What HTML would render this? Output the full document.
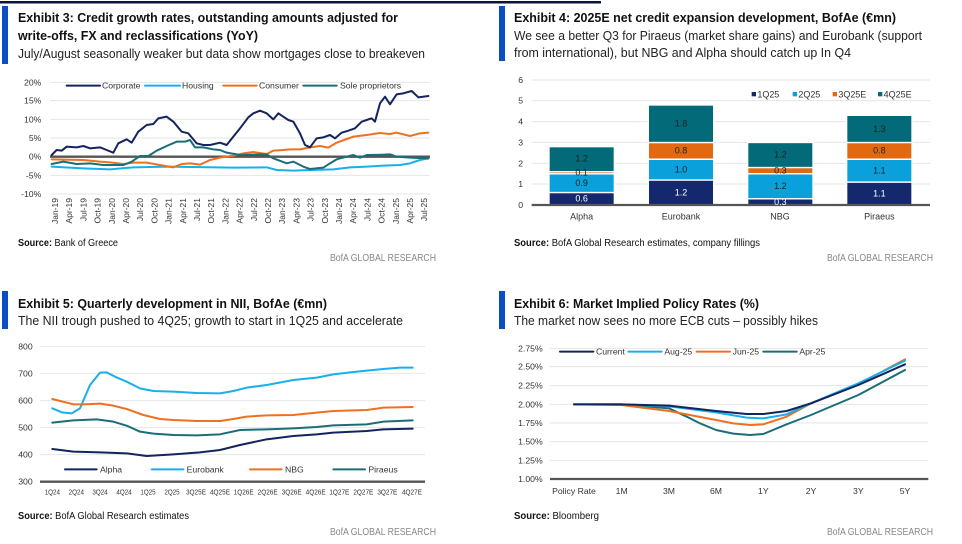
<!DOCTYPE html>
<html><head><meta charset="utf-8"><style>
html,body{margin:0;padding:0;background:#fff;}
svg{display:block;font-family:"Liberation Sans",sans-serif;}
</style></head><body>
<svg width="962" height="544" viewBox="0 0 962 544" xmlns="http://www.w3.org/2000/svg">
<rect width="962" height="544" fill="#fff"/>
<rect x="0" y="1" width="601" height="2.5" fill="#0a1440"/>
<rect x="2" y="6" width="6" height="58" fill="#0a4fc4"/>
<rect x="499" y="6" width="6" height="55" fill="#0a4fc4"/>
<rect x="2" y="291" width="6" height="38" fill="#0a4fc4"/>
<rect x="499" y="291" width="6" height="38" fill="#0a4fc4"/>

<g fill="#111" font-weight="bold" font-size="13">
<text x="18" y="22" textLength="380" lengthAdjust="spacingAndGlyphs">Exhibit 3: Credit growth rates, outstanding amounts adjusted for</text>
<text x="18" y="40" textLength="240" lengthAdjust="spacingAndGlyphs">write-offs, FX and reclassifications (YoY)</text>
<text x="514" y="22" textLength="382" lengthAdjust="spacingAndGlyphs">Exhibit 4: 2025E net credit expansion development, BofAe (€mn)</text>
<text x="18" y="308" textLength="309" lengthAdjust="spacingAndGlyphs">Exhibit 5: Quarterly development in NII, BofAe (€mn)</text>
<text x="514" y="308" textLength="245" lengthAdjust="spacingAndGlyphs">Exhibit 6: Market Implied Policy Rates (%)</text>
</g>
<g fill="#222" font-size="13">
<text x="18" y="58" textLength="407" lengthAdjust="spacingAndGlyphs">July/August seasonally weaker but data show mortgages close to breakeven</text>
<text x="514" y="40" textLength="408" lengthAdjust="spacingAndGlyphs">We see a better Q3 for Piraeus (market share gains) and Eurobank (support</text>
<text x="514" y="57" textLength="337" lengthAdjust="spacingAndGlyphs">from international), but NBG and Alpha should catch up In Q4</text>
<text x="18" y="325" textLength="385" lengthAdjust="spacingAndGlyphs">The NII trough pushed to 4Q25; growth to start in 1Q25 and accelerate</text>
<text x="514" y="325" textLength="304" lengthAdjust="spacingAndGlyphs">The market now sees no more ECB cuts – possibly hikes</text>
</g>
<g font-size="10" fill="#111">
<text x="18" y="246" textLength="100" lengthAdjust="spacingAndGlyphs"><tspan font-weight="bold">Source:</tspan> Bank of Greece</text>
<text x="514" y="246" textLength="246" lengthAdjust="spacingAndGlyphs"><tspan font-weight="bold">Source:</tspan> BofA Global Research estimates, company fillings</text>
<text x="18" y="519" textLength="171" lengthAdjust="spacingAndGlyphs"><tspan font-weight="bold">Source:</tspan> BofA Global Research estimates</text>
<text x="514" y="519" textLength="85" lengthAdjust="spacingAndGlyphs"><tspan font-weight="bold">Source:</tspan> Bloomberg</text>
</g>
<g font-size="10" fill="#888">
<text x="330" y="261" textLength="106" lengthAdjust="spacingAndGlyphs">BofA GLOBAL RESEARCH</text>
<text x="827" y="261" textLength="106" lengthAdjust="spacingAndGlyphs">BofA GLOBAL RESEARCH</text>
<text x="330" y="535" textLength="106" lengthAdjust="spacingAndGlyphs">BofA GLOBAL RESEARCH</text>
<text x="827" y="535" textLength="106" lengthAdjust="spacingAndGlyphs">BofA GLOBAL RESEARCH</text>
</g>

<!-- Chart 1 -->
<g transform="translate(0,60) scale(0.33333)">
<g stroke="#e6e6e6" stroke-width="3">
<line x1="150" y1="67" x2="1290" y2="67"/><line x1="150" y1="122" x2="1290" y2="122"/><line x1="150" y1="178" x2="1290" y2="178"/><line x1="150" y1="234" x2="1290" y2="234"/><line x1="150" y1="346" x2="1290" y2="346"/><line x1="150" y1="402" x2="1290" y2="402"/>
</g>
<g font-size="26" fill="#333" text-anchor="end">
<text x="124" y="76">20%</text><text x="124" y="131">15%</text><text x="124" y="187">10%</text><text x="124" y="243">5%</text><text x="124" y="299">0%</text><text x="124" y="355">-5%</text><text x="124" y="411">-10%</text>
</g>
<line x1="150" y1="290" x2="1290" y2="290" stroke="#555" stroke-width="7"/>
<g fill="none" stroke-width="6" stroke-linejoin="round" stroke-linecap="round">
<polyline stroke="#17b0ea" points="155,320 250,325 330,328 400,322 500,320 700,323 800,322 830,330 880,332 930,330 1000,328 1050,322 1100,320 1150,317 1200,315 1230,310 1260,300 1285,295"/>
<polyline stroke="#ee7020" points="155,298 250,300 300,305 330,307 370,312 400,308 440,308 480,315 520,322 545,312 570,310 600,314 630,300 660,293 700,287 730,280 760,276 800,282 820,272 850,270 870,268 900,268 930,262 960,258 985,263 1010,248 1040,237 1060,230 1100,225 1140,219 1170,222 1190,218 1230,228 1260,220 1285,218"/>
<polyline stroke="#1a6e78" points="155,312 190,305 230,312 270,310 310,315 370,315 395,305 420,288 445,288 470,272 500,258 530,245 555,245 570,240 585,262 610,262 640,268 660,270 680,278 720,285 760,284 800,283 820,295 860,310 880,305 910,320 930,327 970,323 990,310 1010,298 1040,290 1060,285 1080,293 1100,285 1150,284 1170,283 1190,290 1230,293 1285,295"/>
<polyline stroke="#13245e" points="155,285 170,270 185,272 200,260 230,262 250,258 270,265 300,262 320,270 340,278 355,250 380,238 395,248 415,215 440,195 460,192 475,175 500,170 520,185 545,215 565,220 590,250 610,255 630,255 660,248 680,255 700,230 720,205 745,172 760,160 780,152 800,160 820,178 835,160 850,170 865,180 880,185 900,220 915,255 930,262 950,235 970,232 990,225 1005,235 1025,218 1045,212 1065,205 1085,185 1100,180 1115,175 1125,185 1140,130 1155,110 1170,133 1190,103 1210,100 1235,93 1255,112 1285,108"/>
<line x1="200" y1="77" x2="300" y2="77" stroke="#13245e"/><line x1="435" y1="77" x2="540" y2="77" stroke="#17b0ea"/><line x1="670" y1="77" x2="770" y2="77" stroke="#ee7020"/><line x1="910" y1="77" x2="1010" y2="77" stroke="#1a6e78"/>
</g>
<g font-size="26" fill="#333">
<text x="306" y="86">Corporate</text><text x="546" y="86">Housing</text><text x="777" y="86">Consumer</text><text x="1020" y="86">Sole proprietors</text>
</g>
</g>
<g font-size="8.5" fill="#333" text-anchor="end">
<text transform="translate(58,198) rotate(-90)">Jan-19</text>
<text transform="translate(72.2,198) rotate(-90)">Apr-19</text>
<text transform="translate(86.4,198) rotate(-90)">Jul-19</text>
<text transform="translate(100.6,198) rotate(-90)">Oct-19</text>
<text transform="translate(114.8,198) rotate(-90)">Jan-20</text>
<text transform="translate(129,198) rotate(-90)">Apr-20</text>
<text transform="translate(143.2,198) rotate(-90)">Jul-20</text>
<text transform="translate(157.4,198) rotate(-90)">Oct-20</text>
<text transform="translate(171.6,198) rotate(-90)">Jan-21</text>
<text transform="translate(185.8,198) rotate(-90)">Apr-21</text>
<text transform="translate(200,198) rotate(-90)">Jul-21</text>
<text transform="translate(214.2,198) rotate(-90)">Oct-21</text>
<text transform="translate(228.4,198) rotate(-90)">Jan-22</text>
<text transform="translate(242.6,198) rotate(-90)">Apr-22</text>
<text transform="translate(256.8,198) rotate(-90)">Jul-22</text>
<text transform="translate(271,198) rotate(-90)">Oct-22</text>
<text transform="translate(285.2,198) rotate(-90)">Jan-23</text>
<text transform="translate(299.4,198) rotate(-90)">Apr-23</text>
<text transform="translate(313.6,198) rotate(-90)">Jul-23</text>
<text transform="translate(327.8,198) rotate(-90)">Oct-23</text>
<text transform="translate(342,198) rotate(-90)">Jan-24</text>
<text transform="translate(356.2,198) rotate(-90)">Apr-24</text>
<text transform="translate(370.4,198) rotate(-90)">Jul-24</text>
<text transform="translate(384.6,198) rotate(-90)">Oct-24</text>
<text transform="translate(398.8,198) rotate(-90)">Jan-25</text>
<text transform="translate(413,198) rotate(-90)">Apr-25</text>
<text transform="translate(427.2,198) rotate(-90)">Jul-25</text>
</g>

<!-- Chart 2 -->
<g transform="translate(500,60) scale(0.33333)">
<g stroke="#e6e6e6" stroke-width="3">
<line x1="95" y1="60" x2="1290" y2="60"/><line x1="95" y1="122" x2="1290" y2="122"/><line x1="95" y1="185" x2="1290" y2="185"/><line x1="95" y1="247" x2="1290" y2="247"/><line x1="95" y1="310" x2="1290" y2="310"/><line x1="95" y1="372" x2="1290" y2="372"/>
</g>
<g font-size="26" fill="#333" text-anchor="middle">
<text x="62" y="69">6</text><text x="62" y="131">5</text><text x="62" y="194">4</text><text x="62" y="256">3</text><text x="62" y="319">2</text><text x="62" y="381">1</text><text x="62" y="444">0</text>
</g>
<g stroke="#fff" stroke-width="4">
<rect x="147" y="397.5" width="196" height="37.5" fill="#14286e"/>
<rect x="147" y="341.2" width="196" height="56.3" fill="#0aa0dc"/>
<rect x="147" y="335" width="196" height="6.2" fill="#e2690f"/>
<rect x="147" y="260" width="196" height="75" fill="#026a78"/>
<rect x="445" y="360" width="196" height="75" fill="#14286e"/>
<rect x="445" y="297.5" width="196" height="62.5" fill="#0aa0dc"/>
<rect x="445" y="247.5" width="196" height="50" fill="#e2690f"/>
<rect x="445" y="135" width="196" height="112.5" fill="#026a78"/>
<rect x="743" y="416.2" width="196" height="18.8" fill="#14286e"/>
<rect x="743" y="341.2" width="196" height="75" fill="#0aa0dc"/>
<rect x="743" y="322.5" width="196" height="18.7" fill="#e2690f"/>
<rect x="743" y="247.5" width="196" height="75" fill="#026a78"/>
<rect x="1040" y="366.2" width="196" height="68.8" fill="#14286e"/>
<rect x="1040" y="297.5" width="196" height="68.7" fill="#0aa0dc"/>
<rect x="1040" y="247.5" width="196" height="50" fill="#e2690f"/>
<rect x="1040" y="166" width="196" height="81.5" fill="#026a78"/>
</g>
<line x1="95" y1="435" x2="1290" y2="435" stroke="#555" stroke-width="7"/>
<g font-size="27" text-anchor="middle" fill="#222">
<text x="245" y="425" fill="#fff">0.6</text><text x="245" y="378">0.9</text><text x="245" y="346">0.1</text><text x="245" y="305">1.2</text>
<text x="543" y="406" fill="#fff">1.2</text><text x="543" y="338">1.0</text><text x="543" y="281">0.8</text><text x="543" y="200">1.8</text>
<text x="841" y="435" fill="#fff">0.3</text><text x="841" y="387">1.2</text><text x="841" y="341">0.3</text><text x="841" y="293">1.2</text>
<text x="1138" y="409" fill="#fff">1.1</text><text x="1138" y="341">1.1</text><text x="1138" y="281">0.8</text><text x="1138" y="216">1.3</text>
</g>
<g font-size="27" fill="#333">
<rect x="755" y="96" width="13" height="13" fill="#14286e"/><text x="772" y="112">1Q25</text>
<rect x="878" y="96" width="13" height="13" fill="#0aa0dc"/><text x="895" y="112">2Q25</text>
<rect x="998" y="96" width="13" height="13" fill="#e2690f"/><text x="1015" y="112">3Q25E</text>
<rect x="1134" y="96" width="13" height="13" fill="#026a78"/><text x="1151" y="112">4Q25E</text>
</g>
<g font-size="27" fill="#333" text-anchor="middle">
<text x="245" y="479">Alpha</text><text x="543" y="479">Eurobank</text><text x="840" y="479">NBG</text><text x="1138" y="479">Piraeus</text>
</g>
</g>

<!-- Chart 3 -->
<g transform="translate(0,335) scale(0.33333)">
<g stroke="#e6e6e6" stroke-width="3">
<line x1="120" y1="35" x2="1275" y2="35"/><line x1="120" y1="115" x2="1275" y2="115"/><line x1="120" y1="197" x2="1275" y2="197"/><line x1="120" y1="278" x2="1275" y2="278"/><line x1="120" y1="359" x2="1275" y2="359"/>
</g>
<line x1="120" y1="440" x2="1275" y2="440" stroke="#555" stroke-width="7"/>
<g font-size="26" fill="#333" text-anchor="end">
<text x="98" y="44">800</text><text x="98" y="124">700</text><text x="98" y="206">600</text><text x="98" y="287">500</text><text x="98" y="368">400</text><text x="98" y="449">300</text>
</g>
<g fill="none" stroke-width="6" stroke-linejoin="round" stroke-linecap="round">
<polyline stroke="#17b0ea" points="157,220 185,232 215,235 240,220 270,150 300,113 320,112 345,125 380,140 420,160 460,168 520,170 590,174 660,175 700,168 740,158 800,150 880,135 950,128 1000,118 1050,112 1100,107 1150,102 1200,98 1238,98"/>
<polyline stroke="#ee7020" points="157,192 220,208 250,208 300,206 340,212 380,222 430,240 480,252 520,255 590,258 660,258 700,252 740,245 800,241 880,240 950,233 1000,228 1100,225 1150,218 1238,216"/>
<polyline stroke="#1a6e78" points="157,263 220,256 290,253 340,260 380,272 420,290 460,296 520,300 590,301 660,298 720,285 800,283 880,280 950,276 1000,271 1100,268 1150,260 1238,256"/>
<polyline stroke="#13245e" points="157,342 220,350 300,352 380,355 440,363 520,358 600,352 660,345 720,330 800,313 880,303 950,298 1000,293 1100,288 1150,283 1238,281"/>
<line x1="195" y1="403" x2="290" y2="403" stroke="#13245e"/><line x1="455" y1="403" x2="550" y2="403" stroke="#17b0ea"/><line x1="750" y1="403" x2="845" y2="403" stroke="#ee7020"/><line x1="1000" y1="403" x2="1095" y2="403" stroke="#1a6e78"/>
</g>
<g font-size="26" fill="#333">
<text x="300" y="412">Alpha</text><text x="560" y="412">Eurobank</text><text x="855" y="412">NBG</text><text x="1105" y="412">Piraeus</text>
</g>
<g font-size="23" fill="#333" text-anchor="middle" lengthAdjust="spacingAndGlyphs">
<text x="157" y="478" textLength="46" lengthAdjust="spacingAndGlyphs">1Q24</text><text x="229" y="478" textLength="46" lengthAdjust="spacingAndGlyphs">2Q24</text><text x="300" y="478" textLength="46" lengthAdjust="spacingAndGlyphs">3Q24</text><text x="372" y="478" textLength="46" lengthAdjust="spacingAndGlyphs">4Q24</text><text x="444" y="478" textLength="46" lengthAdjust="spacingAndGlyphs">1Q25</text><text x="516" y="478" textLength="46" lengthAdjust="spacingAndGlyphs">2Q25</text><text x="588" y="478" textLength="60" lengthAdjust="spacingAndGlyphs">3Q25E</text><text x="660" y="478" textLength="60" lengthAdjust="spacingAndGlyphs">4Q25E</text><text x="731" y="478" textLength="60" lengthAdjust="spacingAndGlyphs">1Q26E</text><text x="803" y="478" textLength="60" lengthAdjust="spacingAndGlyphs">2Q26E</text><text x="875" y="478" textLength="60" lengthAdjust="spacingAndGlyphs">3Q26E</text><text x="947" y="478" textLength="60" lengthAdjust="spacingAndGlyphs">4Q26E</text><text x="1018" y="478" textLength="60" lengthAdjust="spacingAndGlyphs">1Q27E</text><text x="1090" y="478" textLength="60" lengthAdjust="spacingAndGlyphs">2Q27E</text><text x="1162" y="478" textLength="60" lengthAdjust="spacingAndGlyphs">3Q27E</text><text x="1236" y="478" textLength="60" lengthAdjust="spacingAndGlyphs">4Q27E</text>
</g>
</g>

<!-- Chart 4 -->
<g transform="translate(500,335) scale(0.33333)">
<g stroke="#e6e6e6" stroke-width="3">
<line x1="150" y1="40" x2="1285" y2="40"/><line x1="150" y1="95" x2="1285" y2="95"/><line x1="150" y1="152" x2="1285" y2="152"/><line x1="150" y1="208" x2="1285" y2="208"/><line x1="150" y1="264" x2="1285" y2="264"/><line x1="150" y1="320" x2="1285" y2="320"/><line x1="150" y1="376" x2="1285" y2="376"/>
</g>
<line x1="150" y1="432" x2="1285" y2="432" stroke="#555" stroke-width="7"/>
<g font-size="26" fill="#333" text-anchor="end">
<text x="128" y="49">2.75%</text><text x="128" y="104">2.50%</text><text x="128" y="161">2.25%</text><text x="128" y="217">2.00%</text><text x="128" y="273">1.75%</text><text x="128" y="329">1.50%</text><text x="128" y="385">1.25%</text><text x="128" y="441">1.00%</text>
</g>
<g fill="none" stroke-width="6" stroke-linejoin="round" stroke-linecap="round">
<polyline stroke="#1a6e78" points="222,208 365,208 507,220 560,245 600,265 648,285 700,296 750,300 790,297 860,268 933,240 1075,180 1215,105"/>
<polyline stroke="#ee7020" points="222,208 365,210 507,228 648,255 700,265 750,270 790,268 860,245 933,205 1075,148 1215,73"/>
<polyline stroke="#17b0ea" points="222,208 365,208 507,214 648,232 740,248 790,250 860,238 933,205 1075,145 1215,77"/>
<polyline stroke="#13245e" points="222,208 365,208 507,212 648,228 740,237 790,237 860,228 933,205 1075,150 1215,88"/>
<line x1="180" y1="50" x2="280" y2="50" stroke="#13245e"/><line x1="385" y1="50" x2="485" y2="50" stroke="#17b0ea"/><line x1="590" y1="50" x2="690" y2="50" stroke="#ee7020"/><line x1="790" y1="50" x2="890" y2="50" stroke="#1a6e78"/>
</g>
<g font-size="26" fill="#333">
<text x="288" y="59">Current</text><text x="493" y="59">Aug-25</text><text x="698" y="59">Jun-25</text><text x="898" y="59">Apr-25</text>
</g>
<g font-size="26" fill="#333" text-anchor="middle">
<text x="222" y="477">Policy Rate</text><text x="365" y="477">1M</text><text x="507" y="477">3M</text><text x="648" y="477">6M</text><text x="790" y="477">1Y</text><text x="933" y="477">2Y</text><text x="1075" y="477">3Y</text><text x="1215" y="477">5Y</text>
</g>
</g>
</svg>
</body></html>
